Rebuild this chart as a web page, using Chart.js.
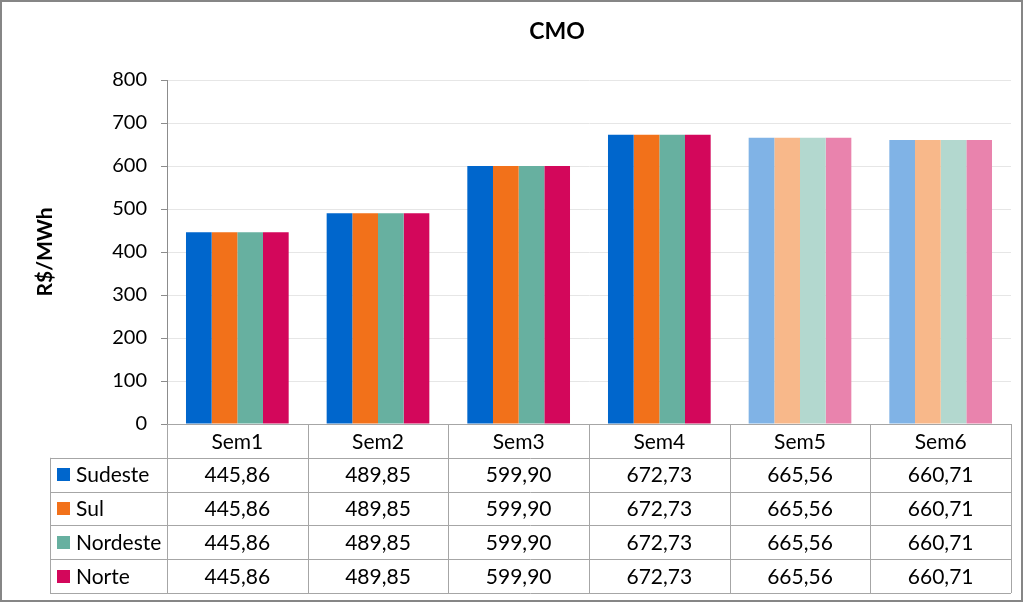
<!DOCTYPE html>
<html>
<head>
<meta charset="utf-8">
<script src="https://cdn.jsdelivr.net/npm/chart.js@4"></script>
<style>
html,body{margin:0;padding:0;background:#fff;}
#wrap{width:1024px;height:609px;}
</style>
</head>
<body>
<div id="wrap"><canvas id="c" width="1024" height="609"></canvas></div>
<script>
const categories = ['Sem1','Sem2','Sem3','Sem4','Sem5','Sem6'];
const seriesNames = ['Sudeste','Sul','Nordeste','Norte'];
const sudeste = [445.86, 489.85, 599.90, 672.73, 665.56, 660.71];
const sul = [445.86, 489.85, 599.90, 672.73, 665.56, 660.71];
const nordeste = [445.86, 489.85, 599.90, 672.73, 665.56, 660.71];
const norte = [445.86, 489.85, 599.90, 672.73, 665.56, 660.71];
const yTicks = [0,100,200,300,400,500,600,700,800];
const chartTitle = 'CMO';
const yTitle = 'R$/MWh';

const baseColors = ['#0066CC','#F2711A','#67B0A0','#D3075B'];
const lightColors = ['#80B3E6','#F8B88A','#B3D8CF','#E983AD'];
const lightFrom = 4; // Sem5 onward drawn lighter

const seriesData = [sudeste, sul, nordeste, norte];

function fmt(v){ return v.toFixed(2).replace('.', ','); }

const FONT = 'Lato, "Open Sans", sans-serif';

const tablePlugin = {
  id: 'excelTable',
  beforeDraw(chart){
    const ctx = chart.ctx;
    ctx.save();
    ctx.fillStyle = '#fff';
    ctx.fillRect(0,0,chart.width,chart.height);
    ctx.restore();
  },
  afterDraw(chart){
    const ctx = chart.ctx;
    const area = chart.chartArea;
    const xs = chart.scales.x;
    const n = categories.length;
    const colW = (area.right - area.left) / n;
    const top = area.bottom;
    const rowH = 33.8;
    const legendLeft = 50;
    ctx.save();
    ctx.strokeStyle = '#A6A6A6';
    ctx.lineWidth = 1;
    ctx.beginPath();
    for (let k = 0; k <= n; k++){
      const x = Math.round(area.left + k*colW) + 0.5;
      ctx.moveTo(x, top); ctx.lineTo(x, top + rowH*5);
    }
    ctx.moveTo(legendLeft + 0.5, top + rowH); ctx.lineTo(legendLeft + 0.5, top + rowH*5);
    ctx.moveTo(area.left, Math.round(top)+0.5); ctx.lineTo(area.right, Math.round(top)+0.5);
    for (let r = 1; r <= 5; r++){
      const y = Math.round(top + r*rowH) + 0.5;
      ctx.moveTo(legendLeft, y); ctx.lineTo(area.right, y);
    }
    ctx.stroke();
    ctx.fillStyle = '#000';
    ctx.font = '21px ' + FONT;
    ctx.textAlign = 'center';
    ctx.textBaseline = 'middle';
    categories.forEach((c,i) => {
      const cx = xs.getPixelForValue(i);
      ctx.fillText(c, cx, top + rowH*0.5 + 1);
    });
    seriesData.forEach((arr, s) => {
      const cy = top + rowH*(s+1) + rowH/2 + 1;
      ctx.textAlign = 'center';
      arr.forEach((v,i) => {
        ctx.fillText(fmt(v), xs.getPixelForValue(i), cy);
      });
      ctx.fillStyle = baseColors[s];
      ctx.fillRect(57, Math.round(cy - 7.5), 13, 13);
      ctx.fillStyle = '#000';
      ctx.textAlign = 'left';
      ctx.fillText(seriesNames[s], 76, cy);
    });
    ctx.font = 'bold 23px ' + FONT;
    ctx.textAlign = 'center';
    ctx.fillText(chartTitle, 557, 32);
    ctx.strokeStyle = '#868686';
    ctx.lineWidth = 2;
    ctx.strokeRect(1, 1, 1021, 600);
    ctx.restore();
  }
};

const datasets = seriesNames.map((name, s) => ({
  label: name,
  data: seriesData[s],
  backgroundColor: categories.map((c,i) => i >= lightFrom ? lightColors[s] : baseColors[s]),
  borderWidth: 0,
  barPercentage: 1,
  categoryPercentage: 0.73
}));

new Chart(document.getElementById('c'), {
  type: 'bar',
  data: { labels: categories, datasets },
  options: {
    responsive: false,
    animation: false,
    devicePixelRatio: 1,
    layout: { padding: { left: 29, right: 13, top: 80, bottom: 185 } },
    plugins: {
      legend: { display: false },
      title: { display: false },
      tooltip: { enabled: false }
    },
    scales: {
      x: {
        grid: { display: false },
        ticks: { display: false },
        border: { display: true, color: '#A6A6A6' },
        afterFit(scale){ scale.height = 0; }
      },
      y: {
        min: 0, max: 800,
        afterBuildTicks(scale){ scale.ticks = yTicks.map(v => ({ value: v })); },
        ticks: { color: '#000', font: { family: FONT, size: 20 }, padding: 14 },
        grid: { color: '#E6E6E6', tickLength: 6, tickColor: '#8C8C8C' },
        border: { display: true, color: '#8C8C8C' },
        title: { display: true, text: yTitle, color: '#000', font: { family: FONT, size: 21, weight: 'bold' } },
        afterFit(scale){ scale.width = 167 - 29; }
      }
    }
  },
  plugins: [tablePlugin]
});
</script>
</body>
</html>
